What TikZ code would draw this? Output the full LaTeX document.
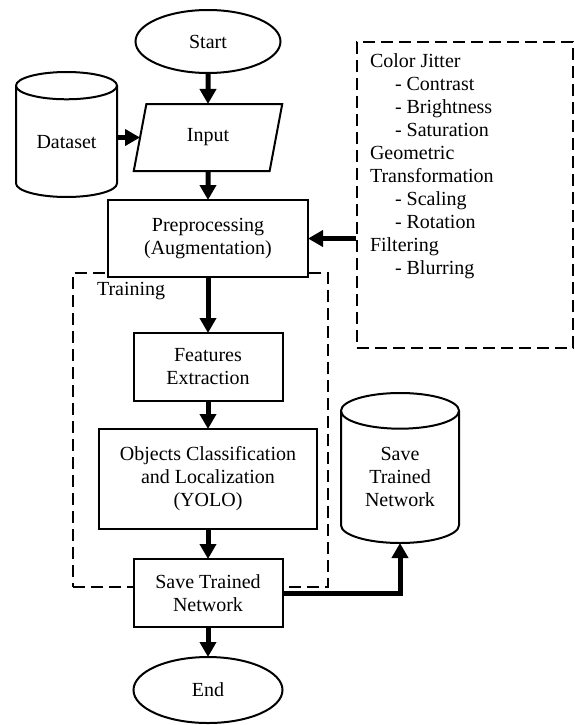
\documentclass[tikz,border=0pt]{standalone}
\usepackage{fontspec}
\setmainfont{Liberation Serif}
\usetikzlibrary{positioning}
\usetikzlibrary{arrows.meta}
\usetikzlibrary{shapes}
\tikzset{
        flownode/.style={align=center,inner sep=0pt,outer sep=0pt,font=\fontsize{20}{23}\selectfont},
        % Start and end
        node_terminal/.style={flownode, ellipse, draw=black, line width=2pt, fill=white, minimum width=145pt, minimum height=63pt},
        % Input
        node_input/.style={flownode, trapezium, trapezium left angle=76, trapezium right angle=104, trapezium stretches=true, draw=black, line width=2pt, fill=white, minimum width=149pt, minimum height=67pt},
        % Process steps
        node_process/.style={flownode, rectangle, draw=black, line width=2pt, fill=white},
        % Stored data
        node_store/.style={flownode, cylinder, shape border rotate=90, draw=black, line width=2pt, fill=white},
        % Dashed groups
        node_group/.style={rectangle, draw=black, line width=1.5pt, dash pattern=on 12pt off 6pt},
        % Arrows
        flow/.style={line width=5pt, -{Triangle[width=16pt,length=15pt]}}
}

\begin{document}
\begin{tikzpicture}[x=1pt, y=1pt]
            \useasboundingbox (0,0) rectangle (575,-725);
            % dashed groups
            \node[node_group, minimum width=255pt, minimum height=314pt] (training) at (200.5,-430) {};
            \node[flownode, anchor=west] (traininglabel) at (97,-291) {Training};
            \node[node_group, minimum width=216pt, minimum height=306pt] (augment) at (465,-195) {};
            \node[flownode, align=left, anchor=north west] (auglist) at (370,-54) {Color Jitter\\
                \hspace*{25pt}- Contrast\\
                \hspace*{25pt}- Brightness\\
                \hspace*{25pt}- Saturation\\
                Geometric\\
                Transformation\\
                \hspace*{25pt}- Scaling\\
                \hspace*{25pt}- Rotation\\
                Filtering\\
                \hspace*{25pt}- Blurring};
            % main flow
            \node[node_terminal] (start) at (208,-41.5) {Start};
            \node[node_input, below=31pt of start] (input) {Input};
            \node[node_process, minimum width=200pt, minimum height=77pt, below=29pt of input] (prep) {Preprocessing\\(Augmentation)};
            \node[node_process, minimum width=149pt, minimum height=68pt, below=56pt of prep] (features) {Features\\Extraction};
            \node[node_process, minimum width=218pt, minimum height=100pt, below=28pt of features] (yolo) {Objects Classification\\and Localization\\(YOLO)};
            \node[node_process, minimum width=149pt, minimum height=68pt, below=30pt of yolo] (save) {Save Trained\\Network};
            \node[node_terminal, minimum width=149pt, minimum height=66pt, below=30pt of save] (finish) {End};
            % data stores
            \node[node_store, aspect=0.455, minimum width=101pt, minimum height=125pt, anchor=south] (dataset) at (66.5,-197) {Dataset};
            \node[node_store, aspect=0.51, minimum width=118pt, minimum height=150pt, anchor=south] (trained) at (400,-543) {Save\\Trained\\Network};
            % arrows
            \draw[flow] (start) -- (input);
            \draw[flow] (dataset.east |- input.west) -- (input.west);
            \draw[flow] (input) -- (prep);
            \draw[flow] (augment.west |- prep.east) -- (prep.east);
            \draw[flow] (prep) -- (features);
            \draw[flow] (features) -- (yolo);
            \draw[flow] (yolo) -- (save);
            \draw[flow] (save) -- (finish);
            \draw[flow] (save.east) -| (trained.south);
        \end{tikzpicture}
\end{document}
